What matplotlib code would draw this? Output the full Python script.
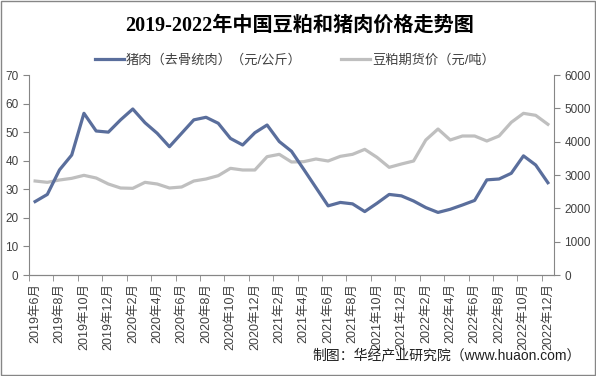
import numpy as np
import matplotlib.pyplot as plt
from matplotlib.patches import Rectangle

plt.rcParams['font.family'] = ['Liberation Sans', 'Noto Sans CJK SC']

# monthly data, 2019-06 .. 2022-12
months = []
for y in range(2019, 2023):
    for m in range(1, 13):
        if (y, m) >= (2019, 6):
            months.append(f"{y}年{m}月")

pork = [25.7, 28.2, 36.8, 42.0, 56.6, 50.4, 50.0, 54.3, 58.1, 53.3, 49.6, 44.9,
        49.6, 54.3, 55.2, 53.1, 47.8, 45.5, 49.8, 52.5, 46.7, 43.3, 37.0, 30.6,
        24.2, 25.4, 24.9, 22.2, 25.1, 28.2, 27.7, 25.9, 23.6, 21.9, 23.0, 24.5,
        26.1, 33.3, 33.6, 35.6, 41.7, 38.5, 32.3]
soymeal = [2820, 2780, 2850, 2900, 2990, 2910, 2730, 2610, 2600, 2780, 2730, 2610,
           2640, 2820, 2880, 2980, 3200, 3150, 3150, 3550, 3620, 3390, 3400, 3480,
           3420, 3560, 3620, 3770, 3530, 3230, 3330, 3420, 4050, 4380, 4050, 4170,
           4170, 4020, 4170, 4580, 4850, 4790, 4520]

pork_label = "猪肉（去骨统肉）（元/公斤）"
soy_label = "豆粕期货价（元/吨）"
title = "2019-2022年中国豆粕和猪肉价格走势图"
source = "制图：华经产业研究院（www.huaon.com）"

W, H = 596, 376
fig = plt.figure(figsize=(W / 100, H / 100), dpi=100)
ax = fig.add_axes([29 / W, 1 - 275 / H, (554 - 29) / W, (275 - 75) / H])
ax2 = ax.twinx()

x = np.arange(len(months))
l1, = ax.plot(x, pork, color='#5a6e9c', lw=2.3, zorder=3)
l2, = ax2.plot(x, soymeal, color='#bfbfbf', lw=2.3, zorder=2)
ax.set_zorder(ax2.get_zorder() + 1)
ax.patch.set_visible(False)

ax.set_xlim(-0.5, len(months) - 0.5)
ax.set_ylim(0, 70)
ax2.set_ylim(0, 6000)
ax.set_yticks(range(0, 71, 10))
ax2.set_yticks(range(0, 6001, 1000))

ax.set_xticks(x[::2])
ax.set_xticklabels(months[::2], rotation=90, fontsize=9, color='#404040')
ax.set_xticks(np.arange(-0.5, len(months), 2), minor=True)
ax.tick_params(axis='x', which='major', length=0, pad=6)
ax.tick_params(axis='x', which='minor', length=4, color='#868686', direction='out')
ax.tick_params(axis='y', labelsize=8.5, colors='#404040', length=4, color='#868686')
ax2.tick_params(axis='y', labelsize=8.5, colors='#404040', length=4, color='#868686')

for a in (ax, ax2):
    a.spines['top'].set_visible(False)
    for s in ('left', 'right', 'bottom'):
        a.spines[s].set_color('#868686')
ax.spines['right'].set_visible(False)
ax2.spines['left'].set_visible(False)

fig.text(300 / W, 1 - 26 / H, title, ha='center', va='center', fontsize=14.5,
         fontweight='bold', family=['Liberation Serif', 'Noto Sans CJK SC'])
fig.legend([l1, l2], [pork_label, soy_label], loc='center',
           bbox_to_anchor=(295 / W, 1 - 60 / H), ncol=2, frameon=False,
           fontsize=9.5, handlelength=2.2, columnspacing=3.0, handletextpad=0.15,
           labelcolor='#404040')
fig.text(581 / W, 1 - 355 / H, source, ha='right', va='center', fontsize=10,
         color='#202020')

fig.patches.append(Rectangle((1 / W, 1 / H), 1 - 2 / W, 1 - 2 / H,
                             transform=fig.transFigure, fill=False,
                             edgecolor='#868686', lw=1))

fig.savefig('out.png', dpi=100)
